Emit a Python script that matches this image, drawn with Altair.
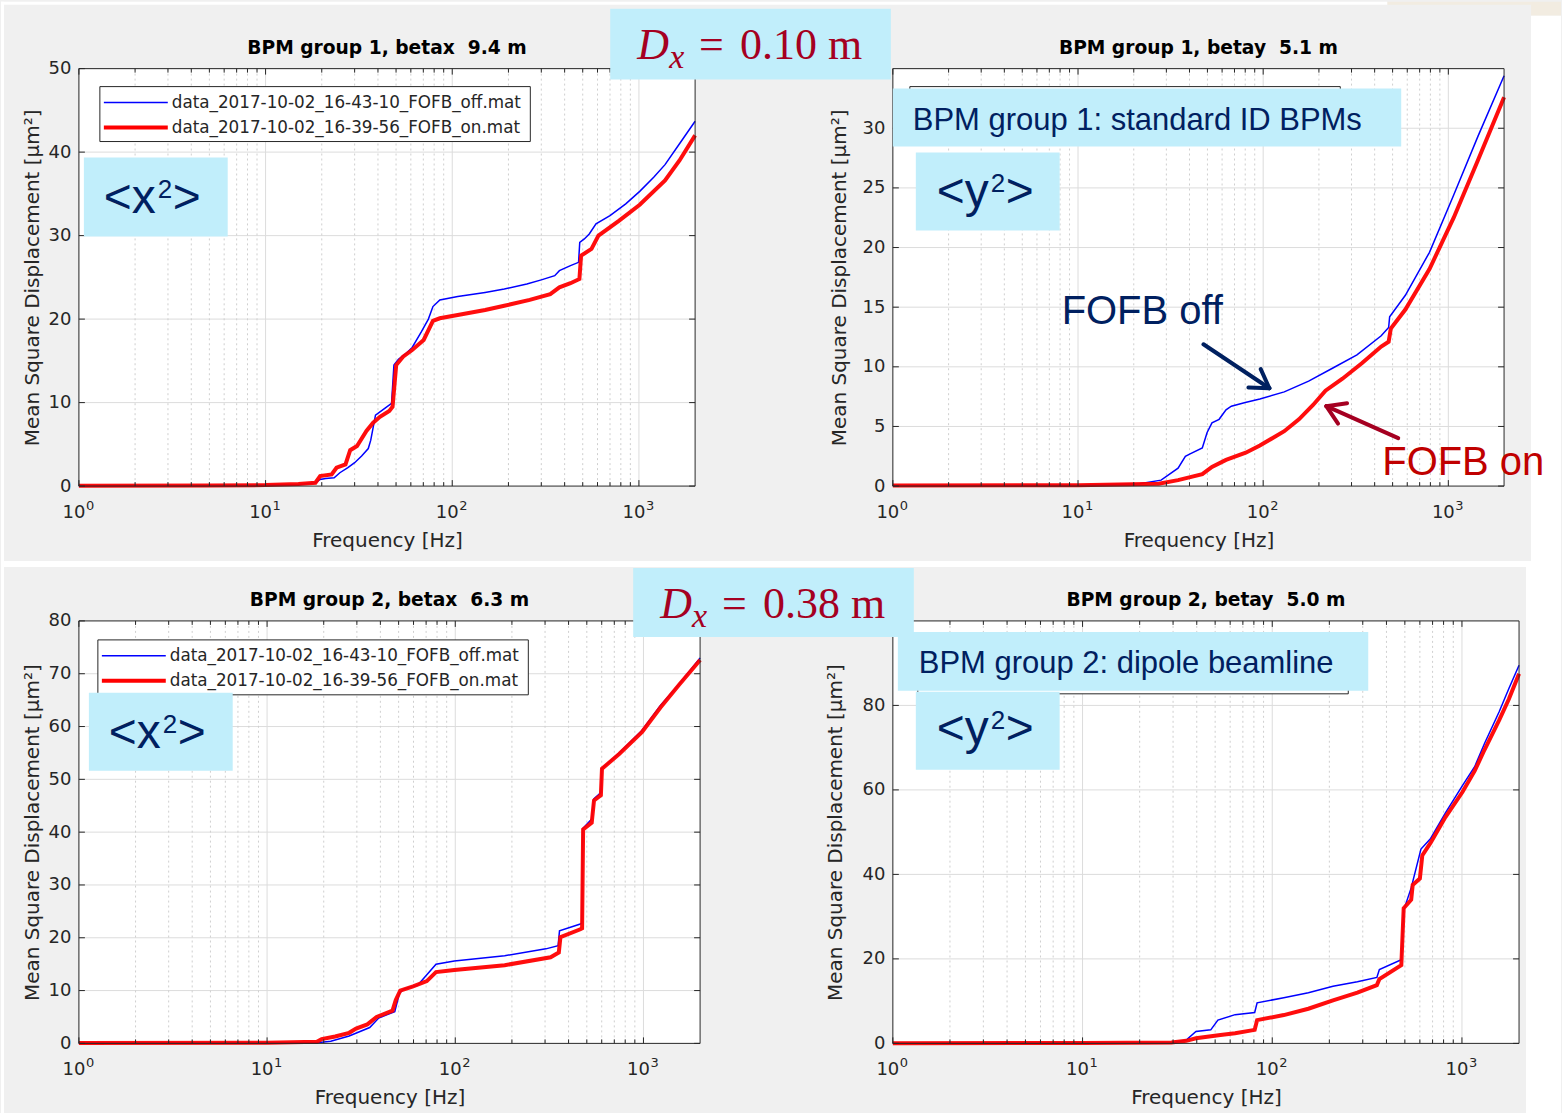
import math
import altair as alt
import pandas as pd

# Cumulative mean-square displacement [um^2] integrated up to each frequency [Hz]
# BPM group 1 (standard ID BPMs), horizontal
g1x_off_f = [1, 5, 10, 15, 18.5, 19.6, 21, 23.3, 25, 27.6, 30, 32.7, 35.5, 36.6, 38.8, 43.5, 47.3, 48.7,
             51.5, 56, 61, 68.4, 74.5, 78.8, 85.8, 107, 150, 190, 251, 300, 354, 375, 430, 475, 482, 510,
             542, 589, 700, 850, 1010, 1200, 1380, 1650, 2000]
g1x_off_v = [0.05, 0.07, 0.12, 0.2, 0.4, 0.8, 0.9, 1.0, 1.6, 2.2, 2.8, 3.6, 4.5, 5.5, 8.5, 9.3, 9.9, 14.5,
             15.2, 15.8, 16.6, 18.5, 20.0, 21.5, 22.3, 22.7, 23.2, 23.6, 24.2, 24.7, 25.2, 25.8, 26.4, 26.8,
             29.2, 29.6, 30.2, 31.4, 32.4, 33.8, 35.3, 37.0, 38.5, 41.0, 43.7]
g1x_on_f = [1, 5, 10, 15, 18.5, 19.6, 22.6, 24, 26.8, 28.4, 30.9, 34.7, 37.7, 41, 46, 47.9, 50.1, 54.5,
            61, 70.3, 78.8, 85.8, 107, 150, 190, 260, 335, 375, 430, 480, 490, 557, 607, 784, 1010, 1380,
            1650, 2000]
g1x_on_v = [0.05, 0.07, 0.12, 0.25, 0.4, 1.2, 1.4, 2.2, 2.6, 4.3, 4.8, 6.6, 7.6, 8.3, 9.0, 9.5, 14.5, 15.5,
            16.3, 17.5, 19.8, 20.1, 20.5, 21.1, 21.6, 22.3, 23.0, 23.8, 24.3, 24.8, 27.6, 28.4, 30.0, 31.8,
            33.7, 36.6, 39.0, 42.0]

# BPM group 1, vertical
g1y_off_f = [1, 10, 21.5, 28.1, 34.7, 38, 40.3, 46.9, 49.8, 52.9, 57.8, 63, 67.3, 80, 96, 130, 176, 238,
             321, 434, 476, 482, 586, 791, 1069, 1443, 2000]
g1y_off_v = [0.05, 0.08, 0.2, 0.5, 1.5, 2.5, 2.7, 3.2, 4.5, 5.3, 5.6, 6.4, 6.7, 7.0, 7.3, 7.9, 8.8, 9.9,
             11.0, 12.6, 13.3, 14.2, 16.0, 19.6, 24.4, 29.3, 34.4]
g1y_on_f = [1, 10, 27.3, 34.7, 46.9, 52.9, 63, 80.5, 96, 130, 156, 186, 217, 268, 341, 434, 476, 489, 586,
            791, 1069, 1443, 2000]
g1y_on_v = [0.05, 0.08, 0.2, 0.5, 1.0, 1.6, 2.2, 2.8, 3.4, 4.6, 5.6, 6.8, 8.0, 9.0, 10.3, 11.7, 12.1, 13.2,
            14.8, 18.2, 22.5, 27.3, 32.6]

# BPM group 2 (dipole beamline), horizontal
g2x_off_f = [1, 10, 18.4, 21.8, 27.3, 35.1, 39.2, 43.9, 47.7, 50.5, 53.4, 63.1, 70.6, 79, 98.9, 183, 303,
             352, 358, 462, 470, 476, 531, 545, 594, 600, 743, 984, 1231, 1539, 2000]
g2x_off_v = [0.05, 0.1, 0.1, 0.4, 1.4, 3.0, 4.8, 5.5, 6.0, 9.5, 10.3, 11.0, 13.0, 15.0, 15.6, 16.6, 17.9,
             18.5, 21.3, 22.6, 22.8, 40.7, 42.5, 46.3, 47.5, 52.0, 55.0, 59.3, 64.0, 67.9, 73.0]
g2x_on_f = [1, 10, 18.4, 19.5, 23, 27.3, 29.7, 34.1, 38.2, 46.4, 48.3, 51, 59.7, 70.6, 79, 98.9, 183, 321,
            355, 362, 462, 472, 478, 531, 546, 594, 602, 743, 984, 1231, 1539, 2000]
g2x_on_v = [0.05, 0.1, 0.3, 0.8, 1.3, 2.0, 2.8, 3.6, 5.0, 6.2, 8.2, 10.0, 10.8, 11.8, 13.5, 13.9, 14.8, 16.3,
            17.2, 20.1, 21.6, 21.8, 40.5, 41.8, 46.0, 47.0, 52.0, 54.8, 59.0, 63.6, 67.8, 72.6]

# BPM group 2, vertical
g2y_off_f = [1, 10, 29.4, 35.2, 39.6, 47.4, 51.7, 63.7, 80.8, 83.2, 115, 155, 209, 281, 356, 367, 479, 493,
             540, 608, 684, 817, 1006, 1167, 1315, 1571, 1768, 2000]
g2y_off_v = [0.05, 0.1, 0.1, 0.8, 2.8, 3.2, 5.5, 6.8, 7.3, 9.6, 10.8, 12.0, 13.5, 14.6, 15.6, 17.5, 19.8,
             31.5, 36.8, 46.0, 48.5, 54.5, 61.0, 65.5, 71.0, 78.5, 84.0, 89.5]
g2y_on_f = [1, 10, 29.4, 35.2, 39.6, 53.3, 63.7, 80.8, 83.2, 115, 155, 209, 281, 356, 367, 479, 493, 540,
            550, 600, 618, 684, 817, 1006, 1167, 1315, 1571, 1768, 2000]
g2y_on_v = [0.05, 0.1, 0.2, 0.6, 1.2, 2.0, 2.4, 3.2, 5.5, 6.7, 8.2, 10.2, 12.0, 13.8, 15.2, 18.5, 32.0, 34.0,
            37.5, 39.0, 44.5, 47.5, 53.5, 59.5, 64.5, 69.5, 76.5, 81.5, 87.5]

LEGEND_LABELS = ["data_2017-10-02_16-43-10_FOFB_off.mat", "data_2017-10-02_16-39-56_FOFB_on.mat"]
Y_TITLE = "Mean Square Displacement [μm²]"
X_TITLE = "Frequency [Hz]"
DECADES = [1, 10, 100, 1000]
DECADE_EXP = ["0", "1", "2", "3"]
MINOR_FREQS = [m * d for d in (1, 10, 100) for m in range(2, 10)]

# styling
FIG_BG = "#f0f0f0"
CYAN = "#c1eefb"
NAVY = "#002060"
DARK_RED = "#a50021"
ON_RED = "#c00000"
AX = "#262626"
GRID = "#dcdcdc"
GRID_MINOR = "#cfcfcf"
BLUE = "#0000ff"
RED = "#ff0000"
MF = "DejaVu Sans"          # figure (axes) font
SF = "Liberation Sans"      # slide annotation font
SERIF = "Liberation Serif"

ONE = pd.DataFrame({"k": [0]})


def series_frame(freqs, values):
    return pd.DataFrame({"freq": freqs, "msd": values, "i": list(range(len(freqs)))})


# ---- pixel-placed annotation helpers (coordinates are page pixels) ----
def rect(p, x0, y0, x1, y1, **style):
    ox, oy = p["origin"]
    return alt.Chart(ONE).mark_rect(**style).encode(
        x=alt.value(x0 - ox), x2=alt.value(x1 - ox),
        y=alt.value(y0 - oy), y2=alt.value(y1 - oy))


def seg(p, a, b, color, width, cap="butt"):
    ox, oy = p["origin"]
    return alt.Chart(ONE).mark_rule(color=color, strokeWidth=width, strokeCap=cap).encode(
        x=alt.value(a[0] - ox), y=alt.value(a[1] - oy),
        x2=alt.value(b[0] - ox), y2=alt.value(b[1] - oy))


def text(p, x, y, s, size, color, font=SF, align="left", baseline="alphabetic", **kw):
    ox, oy = p["origin"]
    return alt.Chart(ONE).mark_text(text=s, fontSize=size, color=color, font=font, align=align,
                                    baseline=baseline, **kw).encode(
        x=alt.value(x - ox), y=alt.value(y - oy))


def arrow(p, tail, tip, color, width=4, head=21, spread=32):
    dx, dy = tip[0] - tail[0], tip[1] - tail[1]
    n = math.hypot(dx, dy)
    bx, by = -dx / n, -dy / n
    out = [seg(p, tail, tip, color, width, "round")]
    for s in (1, -1):
        a = math.radians(spread) * s
        rx = bx * math.cos(a) - by * math.sin(a)
        ry = bx * math.sin(a) + by * math.cos(a)
        out.append(seg(p, tip, (tip[0] + head * rx, tip[1] + head * ry), color, width, "round"))
    return out


def legend_box(p, x0, y0, w=431, h=55, with_entries=True):
    out = [rect(p, x0, y0, x0 + w, y0 + h, fill="white", stroke=AX, strokeWidth=1)]
    if with_entries:
        out += [
            seg(p, (x0 + 4, y0 + 16), (x0 + 68, y0 + 16), BLUE, 1.5),
            seg(p, (x0 + 4, y0 + 41), (x0 + 68, y0 + 41), RED, 4),
            text(p, x0 + 72, y0 + 16, LEGEND_LABELS[0], 16.8, AX, MF, baseline="middle"),
            text(p, x0 + 72, y0 + 41, LEGEND_LABELS[1], 16.8, AX, MF, baseline="middle"),
        ]
    return out


def moment_label(p, box, x, y, var):
    return [rect(p, *box, fill=CYAN),
            text(p, x, y, "<" + var, 48, NAVY),
            text(p, x + 54, y - 15, "2", 26, NAVY),
            text(p, x + 69, y, ">", 48, NAVY)]


def dispersion_label(p, box, x, y, value):
    return [rect(p, *box, fill=CYAN),
            text(p, x, y, "D", 44, DARK_RED, SERIF, fontStyle="italic"),
            text(p, x + 32, y + 9, "x", 34, DARK_RED, SERIF, fontStyle="italic"),
            text(p, x + 62, y, "=", 44, DARK_RED, SERIF),
            text(p, x + 103, y, value, 44, DARK_RED, SERIF)]


def build_panel(p):
    w, h = p["size"]
    ymax = p["ymax"]
    xs = alt.Scale(type="log", domain=[1, 2000], nice=False)
    ys = alt.Scale(domain=[0, ymax], nice=False, zero=False)

    x_axis = alt.Axis(values=DECADES, labels=False, ticks=False, domain=False, grid=False,
                      title=X_TITLE, titleFont=MF, titleFontSize=20, titleFontWeight="normal",
                      titleColor=AX, titlePadding=44)
    y_axis = alt.Axis(values=p["yticks"], format="d", ticks=False, domain=False, grid=False,
                      labelFont=MF, labelFontSize=18, labelColor=AX, labelPadding=8,
                      title=Y_TITLE, titleFont=MF, titleFontSize=20, titleFontWeight="normal",
                      titleColor=AX, titlePadding=p["ytitle_pad"])

    # every layer carries the same axis definition so the shared axes merge cleanly
    def fx(field):
        return alt.X(field, type="quantitative", scale=xs, axis=x_axis)

    def fy(field):
        return alt.Y(field, type="quantitative", scale=ys, axis=y_axis)

    decades = pd.DataFrame({"f": DECADES, "base": ["10"] * len(DECADES), "exp": DECADE_EXP})
    minors = pd.DataFrame({"f": MINOR_FREQS})
    yt = pd.DataFrame({"v": p["yticks"]})

    layers = list(p.get("under", []))
    # grid
    layers.append(alt.Chart(decades[decades.f > 1]).mark_rule(color=GRID, strokeWidth=1)
                  .encode(x=fx("f")))
    layers.append(alt.Chart(yt[(yt.v > 0) & (yt.v < ymax)]).mark_rule(color=GRID, strokeWidth=1)
                  .encode(y=fy("v")))
    layers.append(alt.Chart(minors).mark_rule(color=GRID_MINOR, strokeWidth=1, strokeDash=[2, 3])
                  .encode(x=fx("f")))
    # measured curves
    layers.append(alt.Chart(series_frame(*p["off"])).mark_line(color=BLUE, strokeWidth=1.5)
                  .encode(x=fx("freq"), y=fy("msd"), order="i:Q"))
    layers.append(alt.Chart(series_frame(*p["on"])).mark_line(color=RED, strokeWidth=4, opacity=0.95)
                  .encode(x=fx("freq"), y=fy("msd"), order="i:Q"))
    # inward ticks on all four sides
    for y0, y1 in ((h, h - 6), (0, 6)):
        layers.append(alt.Chart(decades).mark_rule(color=AX)
                      .encode(x=fx("f"), y=alt.value(y0), y2=alt.value(y1)))
    for y0, y1 in ((h, h - 4), (0, 4)):
        layers.append(alt.Chart(minors).mark_rule(color=AX)
                      .encode(x=fx("f"), y=alt.value(y0), y2=alt.value(y1)))
    for x0, x1 in ((0, 6), (w, w - 6)):
        layers.append(alt.Chart(yt).mark_rule(color=AX)
                      .encode(y=fy("v"), x=alt.value(x0), x2=alt.value(x1)))
    # axes box
    layers.append(alt.Chart(ONE).mark_rect(fillOpacity=0, stroke=AX, strokeWidth=1)
                  .encode(x=alt.value(0), x2=alt.value(w), y=alt.value(0), y2=alt.value(h)))
    # decade labels 10^n
    layers.append(alt.Chart(decades).mark_text(font=MF, fontSize=18, color=AX, align="center",
                                               baseline="alphabetic", dx=-5)
                  .encode(x=fx("f"), y=alt.value(h + 32), text="base:N"))
    layers.append(alt.Chart(decades).mark_text(font=MF, fontSize=13, color=AX, align="left",
                                               baseline="alphabetic", dx=7)
                  .encode(x=fx("f"), y=alt.value(h + 24), text="exp:N"))
    # panel title
    layers.append(alt.Chart(ONE).mark_text(text=p["title"], font=MF, fontSize=18.7, fontWeight="bold",
                                           color="black", align="center", baseline="alphabetic")
                  .encode(x=alt.value(w / 2), y=alt.value(-15)))
    layers += p.get("over", [])
    return alt.layer(*layers).properties(width=w, height=h)


P1 = dict(title="BPM group 1, betax\u00a0 9.4 m", origin=(78, 67), size=(617, 418), ymax=50,
          yticks=[0, 10, 20, 30, 40, 50], off=(g1x_off_f, g1x_off_v), on=(g1x_on_f, g1x_on_v),
          ytitle_pad=6)
P2 = dict(title="BPM group 1, betay\u00a0 5.1 m", origin=(893, 67), size=(612, 418), ymax=35,
          yticks=[0, 5, 10, 15, 20, 25, 30], off=(g1y_off_f, g1y_off_v), on=(g1y_on_f, g1y_on_v),
          ytitle_pad=13)
P3 = dict(title="BPM group 2, betax\u00a0 6.3 m", origin=(78, 620), size=(622, 423), ymax=80,
          yticks=[0, 10, 20, 30, 40, 50, 60, 70, 80], off=(g2x_off_f, g2x_off_v), on=(g2x_on_f, g2x_on_v),
          ytitle_pad=6)
P4 = dict(title="BPM group 2, betay\u00a0 5.0 m", origin=(893, 620), size=(627, 423), ymax=100,
          yticks=[0, 20, 40, 60, 80], off=(g2y_off_f, g2y_off_v), on=(g2y_on_f, g2y_on_v),
          ytitle_pad=17)

# group 1, horizontal
P1["over"] = legend_box(P1, 99, 85) + moment_label(P1, (83, 156, 227, 235), 103, 212, "x")

# group 1, vertical (legend sits behind the group caption)
P2["under"] = [rect(P2, 1388, 0, 1532, 3, fill="#f2ece1"),
               rect(P2, 1532, 0, 1562, 14, fill="#f2ece1"),
               rect(P2, 1532, 14, 1562, 560, fill="white")]
P2["over"] = (legend_box(P2, 910, 85, with_entries=False)
              + [rect(P2, 893, 87, 1402, 145, fill=CYAN),
                 text(P2, 913, 128, "BPM group 1: standard ID BPMs", 31, NAVY)]
              + moment_label(P2, (916, 151, 1060, 229), 937, 206, "y")
              + dispersion_label(P2, (610, 7, 891, 78), 637, 57, "0.10 m")
              + [text(P2, 1062, 323, "FOFB off", 40, NAVY)]
              + arrow(P2, (1204, 343), (1270, 387), NAVY)
              + [text(P2, 1383, 474, "FOFB on", 40, ON_RED)]
              + arrow(P2, (1399, 437), (1327, 405), DARK_RED))

# group 2, horizontal
P3["over"] = legend_box(P3, 97, 639) + moment_label(P3, (88, 692, 232, 770), 108, 747, "x")

# group 2, vertical (legend sits behind the group caption)
P4["over"] = (legend_box(P4, 918, 638, with_entries=False)
              + [rect(P4, 898, 631, 1369, 690, fill=CYAN),
                 text(P4, 919, 672, "BPM group 2: dipole beamline", 31, NAVY)]
              + moment_label(P4, (916, 691, 1060, 769), 937, 743, "y")
              + dispersion_label(P4, (633, 567, 914, 636), 660, 617, "0.38 m")
              + [rect(P4, 1527, 560, 1562, 1113, fill="white"),
                 rect(P4, 0, 560, 1562, 566, fill="white"),
                 rect(P4, 0, 0, 3, 1113, fill="white"),
                 rect(P4, 0, 0, 1388, 3, fill="white")])

chart = (
    alt.concat(*[build_panel(p) for p in (P1, P2, P3, P4)], columns=2,
               spacing={"row": 135, "column": 193}, bounds="flush", align="each")
    .properties(padding=0)
    .configure(background=FIG_BG)
    .configure_view(fill="white", stroke="transparent")
)

chart.save("out.html", embed_options={"renderer": "svg", "actions": False})
